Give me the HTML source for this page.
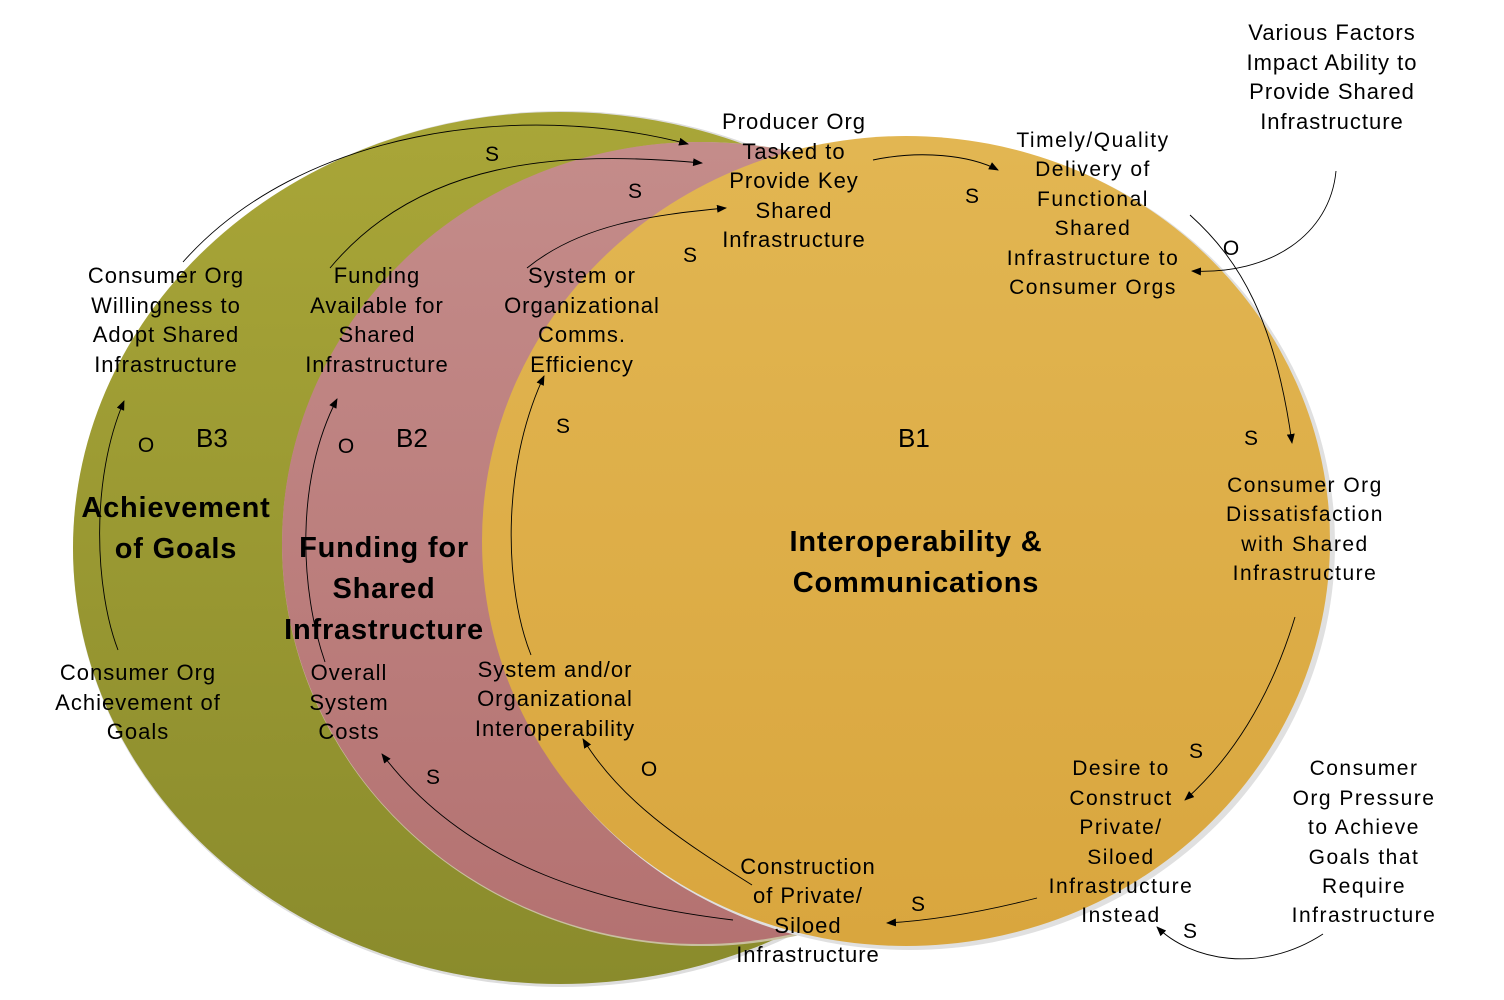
<!DOCTYPE html>
<html><head><meta charset="utf-8"><style>
html,body{margin:0;padding:0;background:#fff;}
svg{display:block;}
text{font-family:"Liberation Sans",Arial,sans-serif;fill:#000;}
.l{font-size:22px;text-anchor:middle;letter-spacing:1px;}
.w{font-size:21px;text-anchor:middle;letter-spacing:1.5px;}
.s{font-size:21px;text-anchor:middle;}
.t{font-size:29px;font-weight:bold;text-anchor:middle;letter-spacing:0.8px;}
</style></head><body>
<svg width="1504" height="1000" viewBox="0 0 1504 1000" xmlns="http://www.w3.org/2000/svg">
<defs>
<linearGradient id="go" x1="0" y1="0" x2="0" y2="1"><stop offset="0" stop-color="#a9a638"/><stop offset="1" stop-color="#8a8b2c"/></linearGradient>
<linearGradient id="gp" x1="0" y1="0" x2="0" y2="1"><stop offset="0" stop-color="#c48c8a"/><stop offset="1" stop-color="#b47271"/></linearGradient>
<linearGradient id="gg" x1="0" y1="0" x2="0" y2="1"><stop offset="0" stop-color="#e2b652"/><stop offset="1" stop-color="#d9a63e"/></linearGradient>
<marker id="a" markerWidth="10" markerHeight="8" refX="9" refY="4" orient="auto" markerUnits="userSpaceOnUse"><path d="M0,0 L10,4 L0,8 z" fill="#000"/></marker>
</defs>
<ellipse cx="562" cy="549" rx="489" ry="438" fill="#ddd"/>
<ellipse cx="560" cy="548" rx="487" ry="436" fill="url(#go)"/>
<ellipse cx="702" cy="544" rx="420" ry="402" fill="#c9c0a0"/>
<ellipse cx="700" cy="543" rx="418" ry="401" fill="url(#gp)"/>
<ellipse cx="910" cy="544" rx="425" ry="406" fill="#e0e0e0"/>
<ellipse cx="906" cy="541" rx="424" ry="405" fill="url(#gg)"/>

<g fill="none" stroke="#000" stroke-width="0.9">
<path d="M183,262 C300,130 520,100 688,144" marker-end="url(#a)"/>
<path d="M330,268 C420,160 560,150 702,163" marker-end="url(#a)"/>
<path d="M527,268 C580,225 650,215 726,208" marker-end="url(#a)"/>
<path d="M873,160 C920,150 970,155 998,170" marker-end="url(#a)"/>
<path d="M1190,215 C1240,260 1275,320 1292,443" marker-end="url(#a)"/>
<path d="M1295,617 C1270,700 1230,760 1185,800" marker-end="url(#a)"/>
<path d="M1037,898 C990,910 940,920 887,923" marker-end="url(#a)"/>
<path d="M1336,171 C1330,235 1270,275 1192,271" marker-end="url(#a)"/>
<path d="M1323,934 C1260,975 1190,960 1157,927" marker-end="url(#a)"/>
<path d="M733,920 C610,905 470,870 382,754" marker-end="url(#a)"/>
<path d="M752,885 C680,840 620,800 583,739" marker-end="url(#a)"/>
<path d="M118,650 C95,590 90,480 124,401" marker-end="url(#a)"/>
<path d="M325,662 C300,590 295,480 337,399" marker-end="url(#a)"/>
<path d="M531,655 C505,590 500,470 544,376" marker-end="url(#a)"/>
</g>

<text class="s" x="492" y="161">S</text>
<text class="s" x="635" y="198">S</text>
<text class="s" x="690" y="262">S</text>
<text class="s" x="972" y="203">S</text>
<text class="s" x="1231" y="255">O</text>
<text class="s" x="1251" y="445">S</text>
<text class="s" x="1196" y="758">S</text>
<text class="s" x="918" y="911">S</text>
<text class="s" x="1190" y="938">S</text>
<text class="s" x="433" y="784">S</text>
<text class="s" x="649" y="776">O</text>
<text class="s" x="563" y="433">S</text>
<text class="s" x="146" y="452">O</text>
<text class="s" x="346" y="453">O</text>
<text style="font-size:26px" x="196" y="447">B3</text>
<text style="font-size:26px" x="396" y="447">B2</text>
<text style="font-size:26px" x="898" y="447">B1</text>

<text class="t" x="176" y="517">Achievement</text>
<text class="t" x="176" y="558">of Goals</text>
<text class="t" x="384" y="557">Funding for</text>
<text class="t" x="384" y="598">Shared</text>
<text class="t" x="384" y="639">Infrastructure</text>
<text class="t" x="916" y="551">Interoperability &amp;</text>
<text class="t" x="916" y="592">Communications</text>

<g class="l">
<text x="166" y="283">Consumer Org</text><text x="166" y="313">Willingness to</text><text x="166" y="342">Adopt Shared</text><text x="166" y="372">Infrastructure</text>
<text x="377" y="283">Funding</text><text x="377" y="313">Available for</text><text x="377" y="342">Shared</text><text x="377" y="372">Infrastructure</text>
<text x="582" y="283">System or</text><text x="582" y="313">Organizational</text><text x="582" y="342">Comms.</text><text x="582" y="372">Efficiency</text>
<text x="794" y="129">Producer Org</text><text x="794" y="159">Tasked to</text><text x="794" y="188">Provide Key</text><text x="794" y="218">Shared</text><text x="794" y="247">Infrastructure</text>
<text x="138" y="680">Consumer Org</text><text x="138" y="710">Achievement of</text><text x="138" y="739">Goals</text>
<text x="349" y="680">Overall</text><text x="349" y="710">System</text><text x="349" y="739">Costs</text>
<text x="555" y="677">System and/or</text><text x="555" y="706">Organizational</text><text x="555" y="736">Interoperability</text>
<text x="808" y="874">Construction</text><text x="808" y="903">of Private/</text><text x="808" y="933">Siloed</text><text x="808" y="962">Infrastructure</text>
<text x="1332" y="40">Various Factors</text><text x="1332" y="70">Impact Ability to</text><text x="1332" y="99">Provide Shared</text><text x="1332" y="129">Infrastructure</text>
</g>
<g class="w">
<text x="1093" y="147">Timely/Quality</text><text x="1093" y="176">Delivery of</text><text x="1093" y="206">Functional</text><text x="1093" y="235">Shared</text><text x="1093" y="265">Infrastructure to</text><text x="1093" y="294">Consumer Orgs</text>
<text x="1305" y="492">Consumer Org</text><text x="1305" y="521">Dissatisfaction</text><text x="1305" y="551">with Shared</text><text x="1305" y="580">Infrastructure</text>
<text x="1121" y="775">Desire to</text><text x="1121" y="805">Construct</text><text x="1121" y="834">Private/</text><text x="1121" y="864">Siloed</text><text x="1121" y="893">Infrastructure</text><text x="1121" y="922">Instead</text>
<text x="1364" y="775">Consumer</text><text x="1364" y="805">Org Pressure</text><text x="1364" y="834">to Achieve</text><text x="1364" y="864">Goals that</text><text x="1364" y="893">Require</text><text x="1364" y="922">Infrastructure</text>
</g>
</svg>
</body></html>
